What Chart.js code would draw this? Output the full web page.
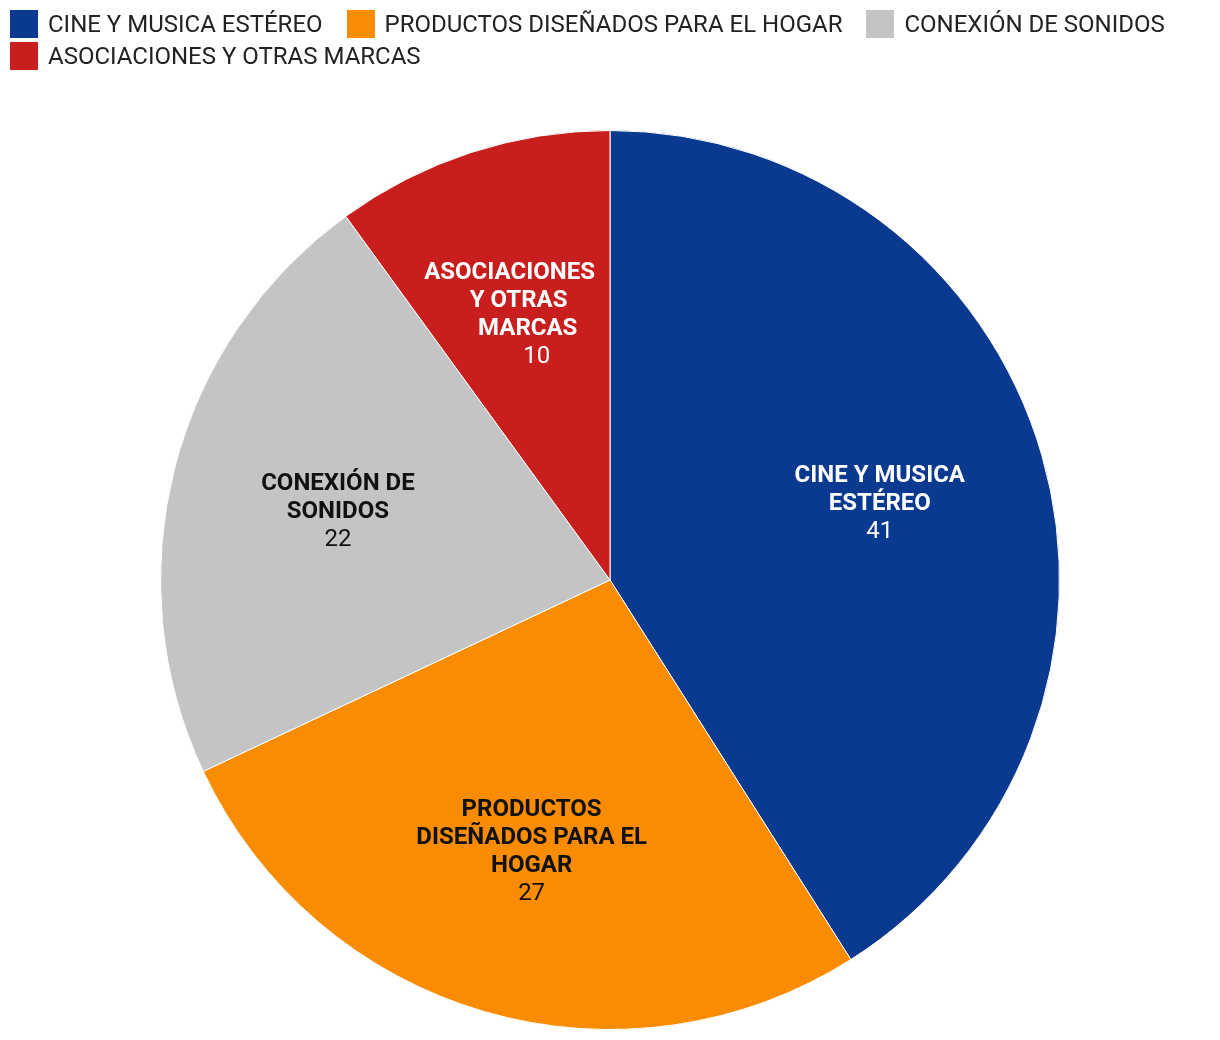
<!DOCTYPE html>
<html>
<head>
<meta charset="utf-8">
<script src="https://cdn.jsdelivr.net/npm/chart.js@4.4.0/dist/chart.umd.min.js"></script>
<style>
    html, body { margin: 0; padding: 0; background: #fff; }
    #wrap { position: relative; width: 1220px; height: 1040px; }
    #legend {
        position: absolute; top: 10px; left: 10px; right: 0;
        display: flex; flex-wrap: wrap; row-gap: 4px; column-gap: 24px;
        font-family: Roboto, sans-serif; font-size: 24px; color: #222;
    }
    .item { display: flex; align-items: center; height: 28px; }
    .box { width: 28px; height: 28px; margin-right: 10px; }
</style>
</head>
<body>
<div id="wrap">
    <canvas id="pieChart" width="1220" height="1040"></canvas>
    <div id="legend"></div>
</div>
<script>
// Data
const categories = ['CINE Y MUSICA ESTÉREO', 'PRODUCTOS DISEÑADOS PARA EL HOGAR', 'CONEXIÓN DE SONIDOS', 'ASOCIACIONES Y OTRAS MARCAS'];
const values = [41, 27, 22, 10];
const colors = ['#0a3990', '#f98c00', '#c4c4c4', '#c91e1e'];
const labelColors = ['#ffffff', '#111111', '#111111', '#ffffff'];
// how the in-slice names break into lines
const labelLines = [
    ['CINE Y MUSICA', 'ESTÉREO'],
    ['PRODUCTOS', 'DISEÑADOS PARA EL', 'HOGAR'],
    ['CONEXIÓN DE', 'SONIDOS'],
    ['ASOCIACIONES', 'Y OTRAS', 'MARCAS']
];

// Legend (html, left aligned)
const legendEl = document.getElementById('legend');
categories.forEach((name, i) => {
    const item = document.createElement('div');
    item.className = 'item';
    item.innerHTML = '<span class="box" style="background:' + colors[i] + '"></span>' + name;
    legendEl.appendChild(item);
});

// Labels inside the slices
const sliceLabels = {
    id: 'sliceLabels',
    afterDatasetsDraw(chart) {
        const ctx = chart.ctx;
        const meta = chart.getDatasetMeta(0);
        const lineH = 28;
        meta.data.forEach((arc, i) => {
            const p = arc.getProps(['x', 'y', 'startAngle', 'endAngle', 'outerRadius'], true);
            const mid = (p.startAngle + p.endAngle) / 2;
            const r = p.outerRadius * 0.625;
            const cx = p.x + Math.cos(mid) * r;
            const cy = p.y + Math.sin(mid) * r + 2;
            // narrow slices: stack the lines along the bisector
            const narrow = (p.endAngle - p.startAngle) < Math.PI / 4;
            const slope = narrow ? Math.cos(mid) / Math.sin(mid) : 0;
            const lines = labelLines[i].concat([String(values[i])]);
            let y = cy - (lines.length - 1) * lineH / 2;
            ctx.save();
            ctx.fillStyle = labelColors[i];
            ctx.textAlign = 'center';
            ctx.textBaseline = 'middle';
            lines.forEach((line, k) => {
                ctx.font = (k < lines.length - 1 ? 'bold ' : '') + '24px Roboto';
                ctx.fillText(line, cx + (y - cy) * slope, y);
                y += lineH;
            });
            ctx.restore();
        });
    }
};

const pieChart = new Chart(document.getElementById('pieChart').getContext('2d'), {
    type: 'pie',
    data: {
        labels: categories,
        datasets: [{
            data: values,
            backgroundColor: colors,
            borderColor: '#ffffff',
            borderWidth: 1
        }]
    },
    options: {
        responsive: false,
        animation: false,
        layout: {
            padding: { top: 130, bottom: 10 }
        },
        plugins: {
            legend: { display: false },
            tooltip: { enabled: false }
        }
    },
    plugins: [sliceLabels]
});
</script>
</body>
</html>
